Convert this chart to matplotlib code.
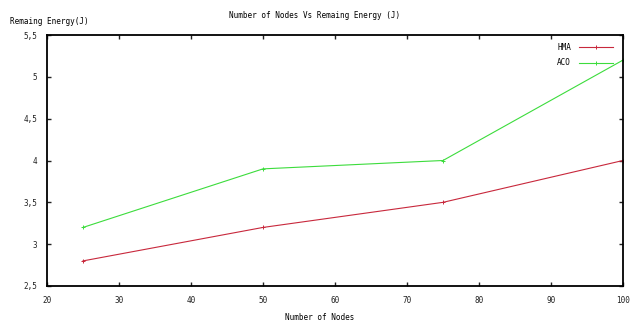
import matplotlib
matplotlib.use("Agg")
import matplotlib.pyplot as plt
from matplotlib.ticker import FuncFormatter

nodes = [25, 50, 75, 100]
hma = [2.8, 3.2, 3.5, 4.0]
aco = [3.2, 3.9, 4.0, 5.2]
x_ticks = [20, 30, 40, 50, 60, 70, 80, 90, 100]
y_ticks = [2.5, 3, 3.5, 4, 4.5, 5, 5.5]

plt.rcParams['font.family'] = ['DejaVu Sans Mono']
fs = 5.5

fig = plt.figure(figsize=(6.3, 3.22), dpi=100)
ax = fig.add_axes([47/630, 1-286/322, (623-47)/630, (286-35)/322])

ax.plot(nodes, hma, color='#c8283c', lw=0.8, marker='+', ms=3, mew=0.7, label='HMA')
ax.plot(nodes, aco, color='#3cdc3c', lw=0.8, marker='+', ms=3, mew=0.7, label='ACO')

ax.set_xlim(20, 100)
ax.set_ylim(2.5, 5.5)
ax.set_xticks(x_ticks)
ax.set_yticks(y_ticks)

def comma(v, pos):
    s = ('%g' % v)
    return s.replace('.', ',')

ax.yaxis.set_major_formatter(FuncFormatter(comma))
ax.tick_params(direction='in', top=True, right=True, length=3, width=1, labelsize=fs, pad=7, colors='#222222')
for s in ax.spines.values():
    s.set_linewidth(1.3)
    s.set_color('black')

fig.text(315/630, 1-15/322, 'Number of Nodes Vs Remaing Energy (J)', ha='center', va='center', fontsize=fs)
fig.text(10/630, 1-21/322, 'Remaing Energy(J)', ha='left', va='center', fontsize=fs)
fig.text(320/630, 1-318/322, 'Number of Nodes', ha='center', va='center', fontsize=fs)

leg = ax.legend(loc='upper right', frameon=False, fontsize=fs, handlelength=4.5,
                markerfirst=False, handletextpad=1.0, labelspacing=0.8, numpoints=1,
                bbox_to_anchor=(0.995, 0.995))

fig.savefig('out.png', dpi=100)
